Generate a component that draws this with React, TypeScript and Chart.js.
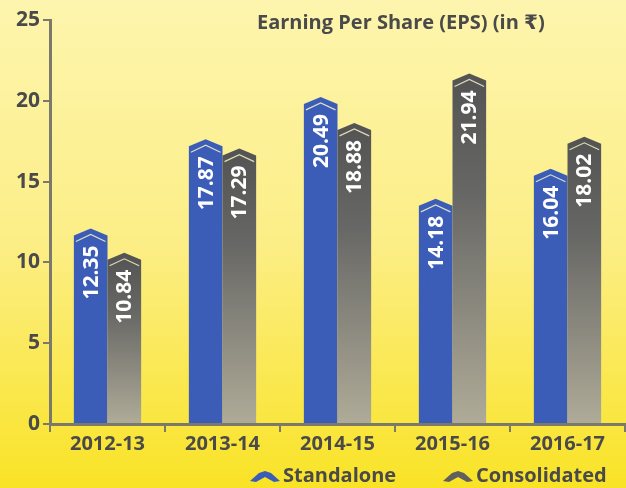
import React, { useEffect, useRef } from "react";
import { Chart, registerables } from "chart.js";

Chart.register(...registerables);

const categories = ["2012-13", "2013-14", "2014-15", "2015-16", "2016-17"];
const standalone = [12.35, 17.87, 20.49, 14.18, 16.04];
const consolidated = [10.84, 17.29, 18.88, 21.94, 18.02];
const seriesNames = ["Standalone", "Consolidated"];
const chartTitle = "Earning Per Share (EPS) (in ₹)";
const yMax = 25;
const yStep = 5;

const FONT = "'Open Sans', 'DejaVu Sans', sans-serif";
const BLUE = "#3b5db7";
const GRAY_TOP = "#535353";
const GRAY_BOTTOM = "#afab98";
const TEXT = "#4a4a4a";
const AXIS = "#7b786c";

function chevronPath(ctx: CanvasRenderingContext2D, left: number, right: number, peak: number, shoulder: number, base: number) {
  const cx = (left + right) / 2;
  ctx.beginPath();
  ctx.moveTo(left, base);
  ctx.lineTo(left, shoulder);
  ctx.lineTo(cx, peak);
  ctx.lineTo(right, shoulder);
  ctx.lineTo(right, base);
  ctx.closePath();
}

const bgPlugin = {
  id: "bgPlugin",
  beforeDraw(chart: any) {
    const ctx = chart.ctx as CanvasRenderingContext2D;
    const g = ctx.createLinearGradient(0, 0, 0, chart.height);
    g.addColorStop(0, "#fdf5ae");
    g.addColorStop(0.5, "#fcee86");
    g.addColorStop(1, "#f9e326");
    ctx.save();
    ctx.fillStyle = g;
    ctx.fillRect(0, 0, chart.width, chart.height);
    ctx.restore();
  },
};

const barPlugin = {
  id: "barPlugin",
  afterDatasetsDraw(chart: any) {
    const ctx = chart.ctx as CanvasRenderingContext2D;
    chart.data.datasets.forEach((ds: any, di: number) => {
      const meta = chart.getDatasetMeta(di);
      meta.data.forEach((el: any, i: number) => {
        const p = el.getProps(["x", "y", "base", "width"], true);
        const left = p.x - p.width / 2;
        const right = p.x + p.width / 2;
        const peak = p.y + 4;
        const shoulder = peak + 7;
        const base = p.base;
        ctx.save();
        chevronPath(ctx, left, right, peak, shoulder, base);
        if (di === 0) {
          ctx.fillStyle = BLUE;
        } else {
          const g = ctx.createLinearGradient(0, peak, 0, base);
          g.addColorStop(0, GRAY_TOP);
          g.addColorStop(0.35, "#676765");
          g.addColorStop(1, GRAY_BOTTOM);
          ctx.fillStyle = g;
        }
        ctx.fill();
        ctx.beginPath();
        ctx.moveTo(left + 2, shoulder + 6);
        ctx.lineTo(p.x, peak + 6);
        ctx.lineTo(right - 2, shoulder + 6);
        ctx.strokeStyle = "rgba(250,245,200,0.85)";
        ctx.lineWidth = 1.2;
        ctx.stroke();
        const v = ds.data[i] as number;
        ctx.translate(p.x, peak + 17);
        ctx.rotate(-Math.PI / 2);
        ctx.fillStyle = "#ffffff";
        ctx.font = `bold 21px ${FONT}`;
        ctx.textAlign = "right";
        ctx.textBaseline = "middle";
        ctx.fillText(v.toFixed(2), 0, 1);
        ctx.restore();
      });
    });
  },
  afterDraw(chart: any) {
    const ctx = chart.ctx as CanvasRenderingContext2D;
    ctx.save();
    ctx.fillStyle = TEXT;
    ctx.font = `bold 20px ${FONT}`;
    ctx.textAlign = "left";
    ctx.textBaseline = "middle";
    ctx.fillText(chartTitle, 257, 23);
    const items = [
      { x: 250, color: BLUE, label: seriesNames[0] },
      { x: 443, color: "#5f5f5e", label: seriesNames[1] },
    ];
    const ly = 476;
    items.forEach((it) => {
      const w = 30;
      ctx.beginPath();
      ctx.moveTo(it.x, ly + 5);
      ctx.lineTo(it.x + 9, ly - 3);
      ctx.lineTo(it.x + w / 2, ly - 5);
      ctx.lineTo(it.x + w - 9, ly - 3);
      ctx.lineTo(it.x + w, ly + 5);
      ctx.lineTo(it.x + w - 6, ly + 6);
      ctx.lineTo(it.x + w / 2, ly + 1);
      ctx.lineTo(it.x + 6, ly + 6);
      ctx.closePath();
      ctx.fillStyle = it.color;
      ctx.fill();
      ctx.fillStyle = TEXT;
      ctx.font = `bold 20px ${FONT}`;
      ctx.textAlign = "left";
      ctx.textBaseline = "middle";
      ctx.fillText(it.label, it.x + w + 3, ly);
    });
    ctx.restore();
  },
};

export default function App() {
  const ref = useRef<HTMLCanvasElement | null>(null);
  useEffect(() => {
    document.body.style.margin = "0";
    const canvas = ref.current!;
    const chart = new Chart(canvas, {
      type: "bar",
      data: {
        labels: categories,
        datasets: [
          { label: seriesNames[0], data: standalone, backgroundColor: "rgba(0,0,0,0)" },
          { label: seriesNames[1], data: consolidated, backgroundColor: "rgba(0,0,0,0)" },
        ],
      },
      options: {
        responsive: false,
        animation: false,
        events: [],
        layout: { padding: { top: 20, right: 1, left: 0, bottom: 0 } },
        datasets: { bar: { barPercentage: 1.0, categoryPercentage: 0.585 } },
        plugins: { legend: { display: false }, tooltip: { enabled: false }, title: { display: false } },
        scales: {
          x: {
            grid: { display: true, drawOnChartArea: false, offset: true, tickLength: 8, color: AXIS, lineWidth: 2 },
            border: { color: AXIS, width: 3 },
            ticks: { color: TEXT, font: { family: FONT, size: 20, weight: "bold" }, padding: 0, maxRotation: 0 },
            afterFit: (s: any) => { s.height = 64; },
          },
          y: {
            min: 0,
            max: yMax,
            ticks: { stepSize: yStep, color: TEXT, font: { family: FONT, size: 21, weight: "bold" }, padding: 3 },
            grid: { display: true, drawOnChartArea: false, tickLength: 7, color: AXIS, lineWidth: 2 },
            border: { color: AXIS, width: 3 },
            afterFit: (s: any) => { s.width = 50; },
          },
        },
      } as any,
      plugins: [bgPlugin, barPlugin],
    });
    return () => chart.destroy();
  }, []);
  return <canvas ref={ref} width={626} height={488} style={{ display: "block" }} />;
}
